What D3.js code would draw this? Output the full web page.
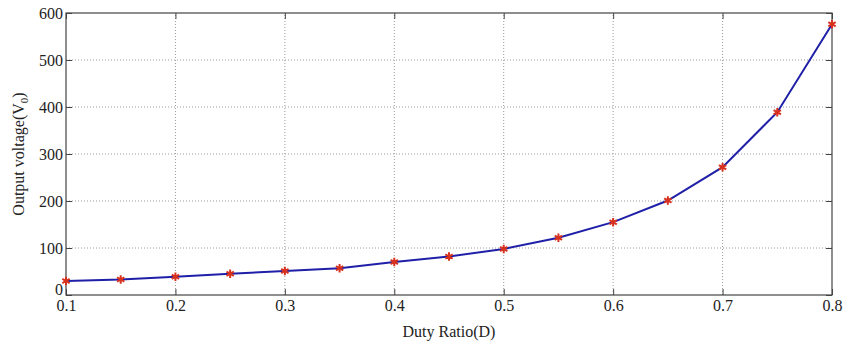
<!DOCTYPE html>
<html lang="en">
<head>
  <meta charset="UTF-8" />
  <title>Output voltage vs Duty Ratio</title>
  <style>
    body { margin: 0; padding: 0; background: #fff; }
    svg { display: block; font-family: "Liberation Serif", "Times New Roman", serif; }
    .grid line { stroke: #9a9a9a; stroke-width: 1; stroke-dasharray: 1,2; }
  </style>
  <script src="https://d3js.org/d3.v7.min.js"></script>
</head>
<body>
<svg id="chart" width="845" height="347"></svg>
<script>
// duty ratio and output voltage
const duty = [0.1, 0.15, 0.2, 0.25, 0.3, 0.35, 0.4, 0.45, 0.5, 0.55, 0.6, 0.65, 0.7, 0.75, 0.8];
const vout = [30, 33, 39, 45, 51, 57, 70, 82, 98, 122, 155, 201, 272, 389, 576];
const xTicks = [0.1, 0.2, 0.3, 0.4, 0.5, 0.6, 0.7, 0.8];
const yTicks = [0, 100, 200, 300, 400, 500, 600];

const serif = "Liberation Serif, Times New Roman, serif";
const svg = d3.select("#chart");
const margin = {top: 13, right: 13, bottom: 52, left: 66};
const width = 845, height = 347;

const x = d3.scaleLinear().domain([0.1, 0.8]).range([margin.left, width - margin.right]);
const y = d3.scaleLinear().domain([0, 600]).range([height - margin.bottom, margin.top]);

// grid
const grid = svg.append("g").attr("class", "grid");
grid.selectAll(".vx").data(xTicks.slice(1, -1)).enter().append("line")
  .attr("x1", d => x(d)).attr("x2", d => x(d))
  .attr("y1", y(0)).attr("y2", y(600));
grid.selectAll(".hy").data(yTicks.slice(1, -1)).enter().append("line")
  .attr("x1", x(0.1)).attr("x2", x(0.8))
  .attr("y1", d => y(d)).attr("y2", d => y(d));

// frame
svg.append("rect")
  .attr("x", x(0.1)).attr("y", y(600))
  .attr("width", x(0.8) - x(0.1)).attr("height", y(0) - y(600))
  .attr("fill", "none").attr("stroke", "#444").attr("stroke-width", 1.2);

function styleAxis(g) {
  g.attr("font-family", serif).attr("font-size", 16);
  g.select(".domain").remove();
  g.selectAll("line").attr("stroke", "#444");
  g.selectAll("text").attr("fill", "#222");
}

// axes, ticks pointing inward
const xAxis = svg.append("g")
  .attr("transform", `translate(0,${y(0)})`)
  .call(d3.axisBottom(x).tickValues(xTicks).tickFormat(d3.format(".1f")).tickSizeInner(-6).tickSizeOuter(0).tickPadding(5))
  .call(styleAxis);

svg.append("g")
  .attr("transform", `translate(0,${y(600)})`)
  .call(d3.axisTop(x).tickValues(xTicks).tickFormat("").tickSizeInner(-6).tickSizeOuter(0))
  .call(styleAxis);

const yAxis = svg.append("g")
  .attr("transform", `translate(${x(0.1)},0)`)
  .call(d3.axisLeft(y).tickValues(yTicks).tickSizeInner(-6).tickSizeOuter(0).tickPadding(3))
  .call(styleAxis);
// the zero label sits a little higher, as in the original
yAxis.selectAll(".tick text").filter(d => d === 0).attr("dy", "-0.05em");

svg.append("g")
  .attr("transform", `translate(${x(0.8)},0)`)
  .call(d3.axisRight(y).tickValues(yTicks).tickFormat("").tickSizeInner(-6).tickSizeOuter(0))
  .call(styleAxis);

// line
const data = duty.map((d, i) => ({d: d, v: vout[i]}));
svg.append("path")
  .datum(data)
  .attr("fill", "none")
  .attr("stroke", "#1f1fa8")
  .attr("stroke-width", 2)
  .attr("d", d3.line().x(p => x(p.d)).y(p => y(p.v)));

// asterisk markers
svg.append("g").selectAll("path").data(data).enter().append("path")
  .attr("transform", p => `translate(${x(p.d)},${y(p.v)})`)
  .attr("d", d3.symbol(d3.symbolAsterisk, 50))
  .attr("fill", "none")
  .attr("stroke", "#d8321e")
  .attr("stroke-width", 2);

// labels
svg.append("text")
  .attr("x", (x(0.1) + x(0.8)) / 2).attr("y", 337)
  .attr("text-anchor", "middle").attr("font-size", 16).attr("fill", "#222")
  .text("Duty Ratio(D)");

const yl = svg.append("text")
  .attr("transform", `translate(24,${(y(0) + y(600)) / 2}) rotate(-90)`)
  .attr("text-anchor", "middle").attr("font-size", 16).attr("fill", "#222");
yl.append("tspan").text("Output voltage(V");
yl.append("tspan").attr("font-size", 11).attr("dy", 4).text("0");
yl.append("tspan").attr("dy", -4).text(")");
</script>
</body>
</html>
